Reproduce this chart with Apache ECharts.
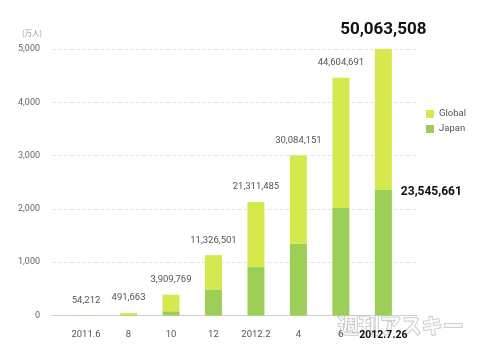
<!DOCTYPE html>
<html><head><meta charset="utf-8">
<script src="https://cdn.jsdelivr.net/npm/echarts@6/dist/echarts.min.js"></script>
<style>html,body{margin:0;padding:0;background:#fff}#c{width:480px;height:358px}</style>
</head><body><div id="c"></div>
<script>
const categories = ['2011.6','8','10','12','2012.2','4','6','2012.7.26'];
const japan  = [2, 10, 80, 490, 908, 1345, 2015, 2355];
const global = [3.4, 39.2, 311, 642.7, 1223.1, 1663.4, 2445.5, 2651.4];
const totalLabels = ['54,212','491,663','3,909,769','11,326,501','21,311,485','30,084,151','44,604,691','50,063,508'];
const japanLastLabel = '23,545,661';
const yTicks = [0, 1000, 2000, 3000, 4000, 5000];

const FONT = 'Roboto';
const last = categories.length - 1;
function fmt(v){ return String(v).replace(/\B(?=(\d{3})+(?!\d))/g, ','); }

const chart = echarts.init(document.getElementById('c'), null, {renderer:'canvas'});
chart.setOption({
  animation:false,
  backgroundColor:'#fff',
  textStyle:{fontFamily:FONT},
  grid:[
    {left:52, right:63, top:49, bottom:42.5},
    {left:64.8, right:75.4, top:49, bottom:42.5}
  ],
  legend:{
    orient:'vertical', left:421, top:104, itemWidth:8, itemHeight:8, itemGap:5,
    icon:'rect', data:['Global','Japan'],
    textStyle:{fontSize:9.5, color:'#555', fontFamily:FONT}
  },
  xAxis:[
    {gridIndex:0, type:'value', min:0, max:1,
     axisLine:{show:true, lineStyle:{color:'#cfcfcf', width:1}},
     axisTick:{show:false}, axisLabel:{show:false}, splitLine:{show:false}},
    {gridIndex:1, type:'category', data:categories, z:10,
     axisLine:{show:false}, axisTick:{show:false},
     axisLabel:{interval:0, margin:14, fontSize:9.5, color:'#555', fontFamily:FONT,
       formatter:(v,i)=> i===last ? '{b|'+v+'}' : v,
       rich:{b:{fontSize:10.5, fontWeight:'bold', color:'#111', fontFamily:FONT}}}}
  ],
  yAxis:[
    {gridIndex:0, type:'value', min:yTicks[0], max:yTicks[yTicks.length-1], interval:1000,
     axisLine:{show:false}, axisTick:{show:false},
     axisLabel:{margin:12, fontSize:9, color:'#666', fontFamily:FONT, formatter:v=>fmt(v)},
     splitLine:{show:true, lineStyle:{color:'#e6e6e6', type:'dashed', width:1}}},
    {gridIndex:1, type:'value', min:0, max:5000, show:false, splitLine:{show:false}}
  ],
  series:[
    {name:'Japan', type:'bar', stack:'a', xAxisIndex:1, yAxisIndex:1, barWidth:17, clip:false,
     itemStyle:{color:'#9ccf57'},
     data:japan.map((v,i)=> i===last ? {value:v, label:{show:true, position:[26,2], align:'left', verticalAlign:'middle',
        formatter:japanLastLabel, fontSize:12, fontWeight:'bold', color:'#111', fontFamily:FONT}} : v)},
    {name:'Global', type:'bar', stack:'a', xAxisIndex:1, yAxisIndex:1, barWidth:17, clip:false,
     itemStyle:{color:'#d5e94f'},
     label:{show:true, position:'top', distance:10, fontSize:9.5, color:'#555', fontFamily:FONT,
       formatter:p=> p.dataIndex===last ? '{big|'+totalLabels[p.dataIndex]+'}' : totalLabels[p.dataIndex],
       rich:{big:{fontSize:17, fontWeight:'bold', color:'#111', fontFamily:FONT}}},
     data:global}
  ],
  graphic:[
    {type:'text', left:22, top:29, style:{text:'(万人)', fontSize:7.5, fill:'#999', fontFamily:'Noto Sans CJK JP'}},
    {type:'text', z:1, left:337, top:314, style:{text:'週刊アスキー', fontSize:21, fontWeight:'bold',
      fill:'rgba(255,255,255,0.8)', stroke:'#c4c4c4', lineWidth:1.5, fontFamily:'Noto Sans CJK JP'}}
  ]
});
</script></body></html>
